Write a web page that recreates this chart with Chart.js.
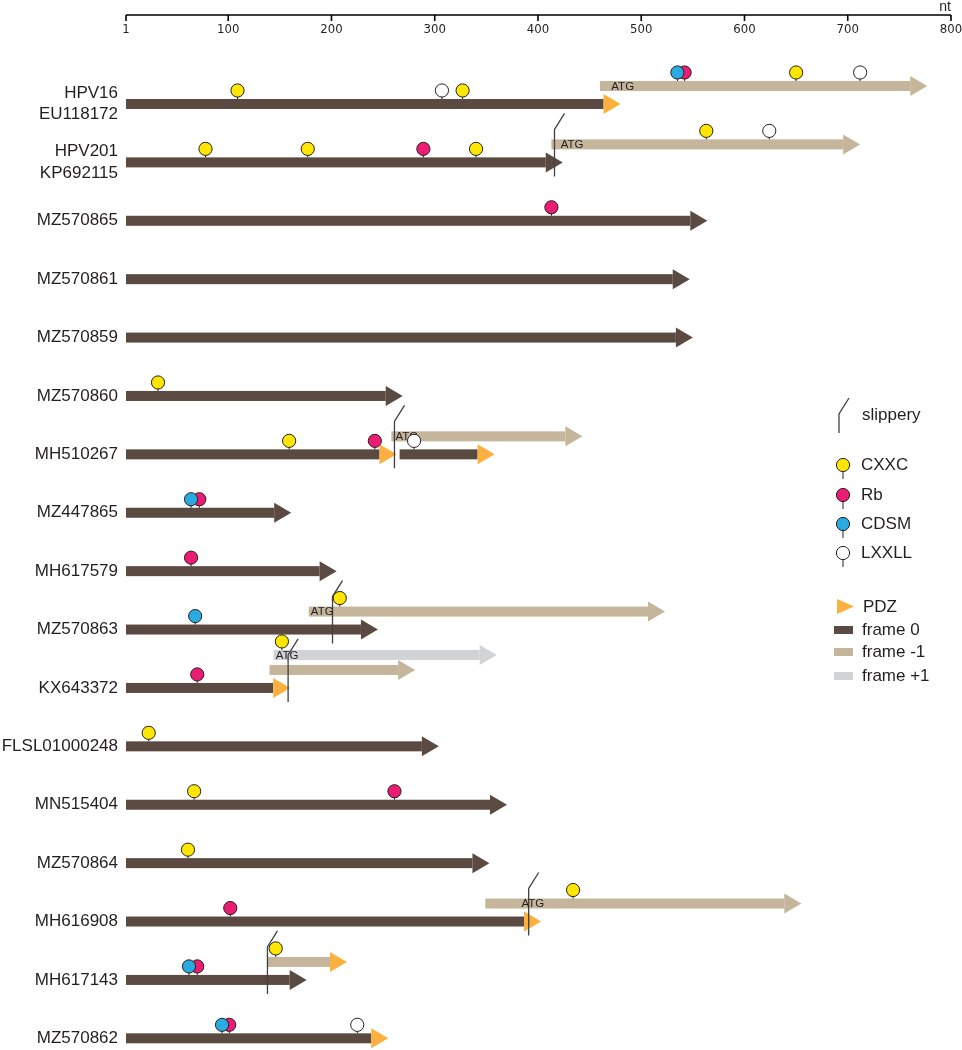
<!DOCTYPE html>
<html>
<head>
<meta charset="utf-8">
<script src="https://cdn.jsdelivr.net/npm/chart.js@4.4.0/dist/chart.umd.min.js"></script>
<style>
  html, body { margin: 0; padding: 0; background: #fff; }
</style>
</head>
<body>
<canvas id="orfChart" width="962" height="1050"></canvas>
<script>
// isolates, top to bottom
var isolates = ['HPV16', 'HPV201', 'MZ570865', 'MZ570861', 'MZ570859', 'MZ570860', 'MH510267',
  'MZ447865', 'MH617579', 'MZ570863', 'KX643372', 'FLSL01000248', 'MN515404', 'MZ570864',
  'MH616908', 'MH617143', 'MZ570862'];
var accessions = { HPV16: 'EU118172', HPV201: 'KP692115' };

var ntTicks = [1, 100, 200, 300, 400, 500, 600, 700, 800];

// ORFs: [isolate, start nt, end nt, ends with PDZ motif]
var frame0 = [
  ['HPV16', 1, 480, true],
  ['HPV201', 1, 424, false],
  ['MZ570865', 1, 564, false],
  ['MZ570861', 1, 547, false],
  ['MZ570859', 1, 550, false],
  ['MZ570860', 1, 269, false],
  ['MH510267', 1, 263, true],
  ['MH510267', 266, 358, true],
  ['MZ447865', 1, 161, false],
  ['MH617579', 1, 205, false],
  ['MZ570863', 1, 245, false],
  ['KX643372', 1, 160, true],
  ['FLSL01000248', 1, 304, false],
  ['MN515404', 1, 370, false],
  ['MZ570864', 1, 353, false],
  ['MH616908', 1, 403, true],
  ['MH617143', 1, 176, false],
  ['MZ570862', 1, 255, true]
];
var frameMinus1 = [
  ['HPV16', 460, 777, false],
  ['HPV201', 413, 712, false],
  ['MH510267', 258, 443, false],
  ['MZ570863', 178, 523, false],
  ['KX643372', 140, 281, false],
  ['MH616908', 349, 655, false],
  ['MH617143', 138, 215, true]
];
var framePlus1 = [
  ['KX643372', 144, 360, false]
];

// motif sites: [isolate, nt, frame]
var cxxcSites = [
  ['HPV16', 109, 0], ['HPV16', 327, 0], ['HPV16', 650, -1],
  ['HPV201', 78, 0], ['HPV201', 177, 0], ['HPV201', 340, 0], ['HPV201', 563, -1],
  ['MZ570860', 32, 0], ['MH510267', 159, 0], ['MZ570863', 208, -1], ['KX643372', 152, 1],
  ['FLSL01000248', 23, 0], ['MN515404', 67, 0], ['MZ570864', 61, 0],
  ['MH616908', 434, -1], ['MH617143', 146, -1]
];
var rbSites = [
  ['HPV16', 542, -1], ['HPV201', 289, 0], ['MZ570865', 413, 0], ['MH510267', 242, 0],
  ['MZ447865', 72, 0], ['MH617579', 64, 0], ['KX643372', 70, 0], ['MN515404', 261, 0],
  ['MH616908', 102, 0], ['MH617143', 70, 0], ['MZ570862', 101, 0]
];
var cdsmSites = [
  ['HPV16', 535, -1], ['MZ447865', 64, 0], ['MZ570863', 68, 0], ['MH617143', 62, 0], ['MZ570862', 94, 0]
];
var lxxllSites = [
  ['HPV16', 307, 0], ['HPV16', 712, -1], ['HPV201', 624, -1], ['MH510267', 280, 0], ['MZ570862', 225, 0]
];

// slippery sequences: [isolate, nt]
var slipperySites = [
  ['HPV201', 416], ['MH510267', 261], ['MZ570863', 201], ['KX643372', 158], ['MH616908', 391], ['MH617143', 138]
];
// ATG start labels: [isolate, nt, frame]
var atgLabels = [
  ['HPV16', 471, -1], ['HPV201', 422, -1], ['MH510267', 262, -1], ['MZ570863', 180, -1],
  ['KX643372', 146, 1], ['MH616908', 384, -1]
];

var BROWN = '#5b4a41';
var BEIGE = '#c4b59b';
var GREY = '#d1d3d4';
var ORANGE = '#fbb040';
var INK = '#231f20';
var FONT = '"Liberation Sans", Arial, sans-serif';
var PIN_COLORS = { cxxc: '#ffe600', rb: '#ec1c74', cdsm: '#29aae1', lxxll: '#ffffff' };
var LANE_SHIFT = { '0': 0, '-1': -18, '1': -33 };

function laneY(chart, name, frame) {
  return chart.scales.y.getPixelForValue(isolates.indexOf(name)) + LANE_SHIFT[frame];
}

function drawArrow(ctx, x0, x1, y, color, pdz) {
  var head = 17;
  ctx.fillStyle = color;
  ctx.fillRect(x0, y - 5, x1 - head - x0, 10);
  ctx.fillStyle = pdz ? ORANGE : color;
  ctx.beginPath();
  ctx.moveTo(x1 - head, y - 10);
  ctx.lineTo(x1, y);
  ctx.lineTo(x1 - head, y + 10);
  ctx.closePath();
  ctx.fill();
}

function drawPin(ctx, x, y, fill, stem) {
  ctx.strokeStyle = INK;
  ctx.lineWidth = 1;
  ctx.beginPath();
  ctx.moveTo(x, y);
  ctx.lineTo(x, y + stem);
  ctx.stroke();
  ctx.beginPath();
  ctx.arc(x, y, 6.6, 0, 2 * Math.PI);
  ctx.fillStyle = fill;
  ctx.fill();
  ctx.stroke();
}

function drawSlippery(ctx, x, yTop, yBottom) {
  ctx.strokeStyle = '#414042';
  ctx.lineWidth = 1.3;
  ctx.beginPath();
  ctx.moveTo(x, yBottom);
  ctx.lineTo(x, yTop);
  ctx.lineTo(x + 10, yTop - 16);
  ctx.stroke();
}

var orfPlugin = {
  id: 'orfPlugin',
  afterDraw: function(chart) {
    var ctx = chart.ctx;
    var xs = chart.scales.x;
    ctx.save();

    // axis line with ticks pointing down
    ctx.strokeStyle = '#000';
    ctx.lineWidth = 1.6;
    ctx.beginPath();
    ctx.moveTo(xs.left, xs.top);
    ctx.lineTo(xs.right, xs.top);
    ntTicks.forEach(function(v) {
      var x = xs.getPixelForValue(v);
      ctx.moveTo(x, xs.top);
      ctx.lineTo(x, xs.top + 6);
    });
    ctx.stroke();
    ctx.fillStyle = INK;
    ctx.font = '14px ' + FONT;
    ctx.textAlign = 'right';
    ctx.textBaseline = 'alphabetic';
    ctx.fillText('nt', xs.getPixelForValue(800), 11);

    // ORF arrows
    framePlus1.forEach(function(o) {
      drawArrow(ctx, xs.getPixelForValue(o[1]), xs.getPixelForValue(o[2]), laneY(chart, o[0], 1), GREY, o[3]);
    });
    frameMinus1.forEach(function(o) {
      drawArrow(ctx, xs.getPixelForValue(o[1]), xs.getPixelForValue(o[2]), laneY(chart, o[0], -1), BEIGE, o[3]);
    });
    frame0.forEach(function(o) {
      drawArrow(ctx, xs.getPixelForValue(o[1]), xs.getPixelForValue(o[2]), laneY(chart, o[0], 0), BROWN, o[3]);
    });

    // slippery sequences
    slipperySites.forEach(function(s) {
      var y = laneY(chart, s[0], 0);
      drawSlippery(ctx, xs.getPixelForValue(s[1]), y - 33, y + 14);
    });

    // ATG labels
    ctx.fillStyle = INK;
    ctx.font = '11.5px ' + FONT;
    ctx.textAlign = 'left';
    ctx.textBaseline = 'middle';
    atgLabels.forEach(function(a) {
      ctx.fillText('ATG', xs.getPixelForValue(a[1]), laneY(chart, a[0], a[2]) + 0.5);
    });

    // motif pins
    [[lxxllSites, 'lxxll'], [cxxcSites, 'cxxc'], [rbSites, 'rb'], [cdsmSites, 'cdsm']].forEach(function(set) {
      set[0].forEach(function(p) {
        var y = laneY(chart, p[0], p[2]);
        drawPin(ctx, xs.getPixelForValue(p[1]), y - 13.5, PIN_COLORS[set[1]], 8.5);
      });
    });

    // legend
    var lx = 834;
    ctx.font = '17px ' + FONT;
    ctx.textAlign = 'left';
    ctx.textBaseline = 'middle';
    drawSlippery(ctx, 839, 414, 433);
    ctx.fillStyle = INK;
    ctx.fillText('slippery', 862, 415);
    var pinRows = [['CXXC', 'cxxc', 465], ['Rb', 'rb', 495], ['CDSM', 'cdsm', 524], ['LXXLL', 'lxxll', 553]];
    pinRows.forEach(function(r) {
      drawPin(ctx, 843, r[2], PIN_COLORS[r[1]], 14);
      ctx.fillStyle = INK;
      ctx.fillText(r[0], 861, r[2]);
    });
    ctx.fillStyle = ORANGE;
    ctx.beginPath();
    ctx.moveTo(837, 599);
    ctx.lineTo(854, 606.5);
    ctx.lineTo(837, 614);
    ctx.closePath();
    ctx.fill();
    ctx.fillStyle = INK;
    ctx.fillText('PDZ', 863, 607);
    [['frame 0', BROWN, 630], ['frame -1', BEIGE, 652], ['frame +1', GREY, 676]].forEach(function(f) {
      ctx.fillStyle = f[1];
      ctx.fillRect(lx, f[2] - 4, 19, 8);
      ctx.fillStyle = INK;
      ctx.fillText(f[0], 862, f[2]);
    });

    ctx.restore();
  }
};

var ctx = document.getElementById('orfChart').getContext('2d');
var chart = new Chart(ctx, {
  type: 'scatter',
  data: { datasets: [] },
  options: {
    responsive: false,
    devicePixelRatio: 1,
    animation: false,
    layout: { padding: { top: 15, right: 11, bottom: 0, left: 0 } },
    plugins: { legend: { display: false }, tooltip: { enabled: false } },
    scales: {
      x: {
        type: 'linear',
        position: 'top',
        min: 1,
        max: 800,
        afterBuildTicks: function(scale) {
          scale.ticks = ntTicks.map(function(v) { return { value: v }; });
        },
        afterFit: function(scale) {
          scale.height = 30;
          scale.paddingLeft = 0;
          scale.paddingRight = 0;
        },
        grid: { display: false, drawTicks: false },
        border: { display: false },
        ticks: {
          padding: 8,
          autoSkip: false,
          maxRotation: 0,
          color: INK,
          font: { family: '"Liberation Sans Narrow", "DejaVu Sans Condensed", "Liberation Sans", sans-serif', size: 13 }
        }
      },
      y: {
        type: 'linear',
        position: 'left',
        reverse: true,
        min: -1.01,
        max: 16.2,
        afterBuildTicks: function(scale) {
          scale.ticks = isolates.map(function(n, i) { return { value: i }; });
        },
        afterFit: function(scale) {
          scale.width = 126;
          scale.paddingTop = 0;
          scale.paddingBottom = 0;
        },
        grid: { display: false, drawTicks: false },
        border: { display: false },
        ticks: {
          padding: 8,
          autoSkip: false,
          color: INK,
          font: { family: FONT, size: 17, lineHeight: 1.25 },
          callback: function(v) {
            var name = isolates[v];
            return accessions[name] ? [name, accessions[name]] : name;
          }
        }
      }
    }
  },
  plugins: [orfPlugin]
});
</script>
</body>
</html>
